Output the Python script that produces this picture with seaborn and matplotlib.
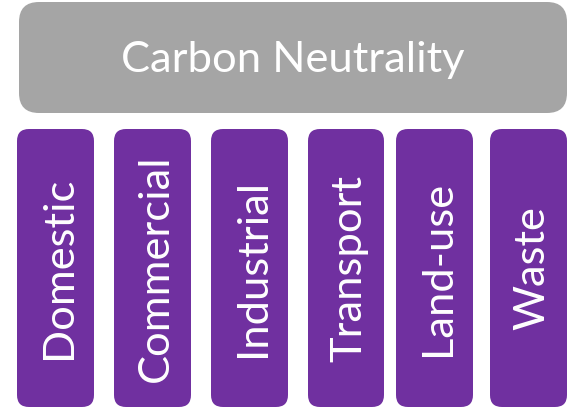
import matplotlib
matplotlib.use("Agg")
import matplotlib.pyplot as plt
from matplotlib.patches import FancyBboxPatch
import seaborn as sns

# Data
title_text = "Carbon Neutrality"
categories = ["Domestic", "Commercial", "Industrial", "Transport", "Land-use", "Waste"]

# Layout (pixels)
W, H = 572, 407
box_left = [17, 114, 211, 308, 396, 490]
box_right = [94, 191, 288, 384, 473, 567]
box_top, box_bottom = 129, 407
top_box = (19, 2, 567, 113)

sns.set_theme(style="white")
plt.rcParams["font.family"] = ["Lato", "DejaVu Sans"]

fig = plt.figure(figsize=(W / 100, H / 100), dpi=100)
ax = fig.add_axes([0, 0, 1, 1])
ax.set_xlim(0, W)
ax.set_ylim(H, 0)
ax.axis("off")

gray = "#A5A5A5"
purple = "#7030A0"

x0, y0, x1, y1 = top_box
ax.add_patch(FancyBboxPatch((x0, y0), x1 - x0, y1 - y0,
                            boxstyle="round,pad=0,rounding_size=20",
                            fc=gray, ec="none"))

fs = 40
t = ax.text((x0 + x1) / 2, 72, title_text, color="white", fontsize=fs,
            ha="center", va="baseline")
fig.canvas.draw()
r = fig.canvas.get_renderer()
w = t.get_window_extent(r).width
fs = fs * 343 / w
t.set_fontsize(fs)

for cat, l, rr in zip(categories, box_left, box_right):
    ax.add_patch(FancyBboxPatch((l, box_top), rr - l, box_bottom - box_top,
                                boxstyle="round,pad=0,rounding_size=12",
                                fc=purple, ec="none"))
    cx = (l + rr) / 2
    ax.text(cx + 15.5, 268, cat, color="white", fontsize=fs, rotation=90,
            rotation_mode="anchor", ha="center", va="baseline")

fig.savefig("out.png", dpi=100)
